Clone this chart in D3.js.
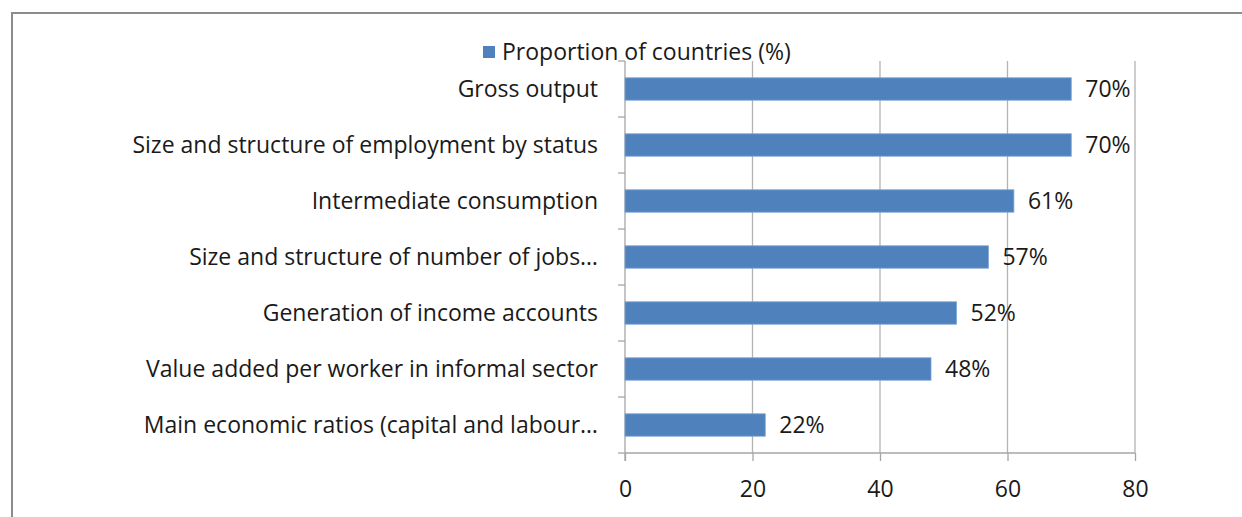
<!DOCTYPE html>
<html>
<head>
<meta charset="utf-8">
<script src="https://cdn.jsdelivr.net/npm/d3@7"></script>
<style>
  body { margin: 0; background: #fff; }
  text { font-family: "Open Sans", "Liberation Sans", sans-serif; fill: #1a1a1a; }
</style>
</head>
<body>
<div id="container"></div>
<script>
let w = 1242;
let h = 517;

// data
let categories = [
  "Gross output",
  "Size and structure of employment by status",
  "Intermediate consumption",
  "Size and structure of number of jobs\u2026",
  "Generation of income accounts",
  "Value added per worker in informal sector",
  "Main economic ratios (capital and labour\u2026"
];
let values = [70, 70, 61, 57, 52, 48, 22];
let xTicks = [0, 20, 40, 60, 80];
let seriesName = "Proportion of countries (%)";

let plotLeft = 625, plotRight = 1135, plotTop = 61, plotBottom = 453;
let barColor = "#4f81bd";
let fontSize = "23px";

let viz = d3.select("#container").append("svg")
    .attr("width", w)
    .attr("height", h);

// chart frame
viz.append("path")
  .attr("d", "M12," + h + "V13H" + w)
  .attr("fill", "none")
  .attr("stroke", "#8c8c8c")
  .attr("stroke-width", 2);

let xScale = d3.scaleLinear().domain([0, 80]).range([plotLeft, plotRight]);
let yScale = d3.scaleBand()
  .domain(categories)
  .range([plotTop, plotBottom])
  .paddingInner(0.6)
  .paddingOuter(0.3);

// gridlines
viz.append("g").selectAll("line")
  .data(xTicks.slice(1))
  .enter().append("line")
  .attr("x1", d => xScale(d)).attr("x2", d => xScale(d))
  .attr("y1", plotTop).attr("y2", plotBottom)
  .attr("stroke", "#b3b3b3").attr("stroke-width", 1.3);

// x axis
let xAxis = d3.axisBottom(xScale).tickValues(xTicks).tickSize(8).tickPadding(20);
let xAxisGroup = viz.append("g")
  .attr("transform", "translate(0," + plotBottom + ")")
  .call(xAxis);
xAxisGroup.select(".domain").attr("stroke", "#a6a6a6").attr("stroke-width", 1.3)
  .attr("d", "M" + plotLeft + ",0H" + plotRight);
xAxisGroup.selectAll("line").attr("stroke", "#a6a6a6").attr("stroke-width", 1.3);
xAxisGroup.selectAll("text").style("font-size", fontSize).style("fill", "#1a1a1a")
  .style("font-family", "'Open Sans', sans-serif");

// y axis: ticks between categories
let bounds = d3.range(categories.length + 1).map(i => plotTop + i * yScale.step());
let yAxisGroup = viz.append("g");
yAxisGroup.append("line")
  .attr("x1", plotLeft).attr("x2", plotLeft).attr("y1", plotTop).attr("y2", plotBottom + 8)
  .attr("stroke", "#a6a6a6").attr("stroke-width", 1.3);
yAxisGroup.selectAll(".ytick")
  .data(bounds)
  .enter().append("line")
  .attr("x1", plotLeft - 7).attr("x2", plotLeft)
  .attr("y1", d => d).attr("y2", d => d)
  .attr("stroke", "#a6a6a6").attr("stroke-width", 1.3);

// category labels
viz.append("g").selectAll("text")
  .data(categories)
  .enter().append("text")
  .attr("x", 598)
  .attr("y", d => yScale(d) + yScale.bandwidth() / 2)
  .attr("dy", "0.35em")
  .attr("text-anchor", "end")
  .style("font-size", fontSize)
  .text(d => d);

// bars
viz.append("g").selectAll("rect")
  .data(values)
  .enter().append("rect")
  .attr("x", xScale(0))
  .attr("y", (d, i) => yScale(categories[i]))
  .attr("width", d => xScale(d) - xScale(0))
  .attr("height", yScale.bandwidth())
  .attr("fill", barColor)
  .attr("stroke", "#7ea3d6")
  .attr("stroke-width", 0.8);

// value labels
viz.append("g").selectAll("text")
  .data(values)
  .enter().append("text")
  .attr("x", d => xScale(d) + 14)
  .attr("y", (d, i) => yScale(categories[i]) + yScale.bandwidth() / 2)
  .attr("dy", "0.35em")
  .style("font-size", fontSize)
  .text(d => d + "%");

// legend
let legend = viz.append("g");
legend.append("rect")
  .attr("x", 483).attr("y", 46).attr("width", 12).attr("height", 12)
  .attr("fill", barColor);
legend.append("text")
  .attr("x", 502).attr("y", 52).attr("dy", "0.35em")
  .style("font-size", fontSize)
  .text(seriesName);
</script>
</body>
</html>
